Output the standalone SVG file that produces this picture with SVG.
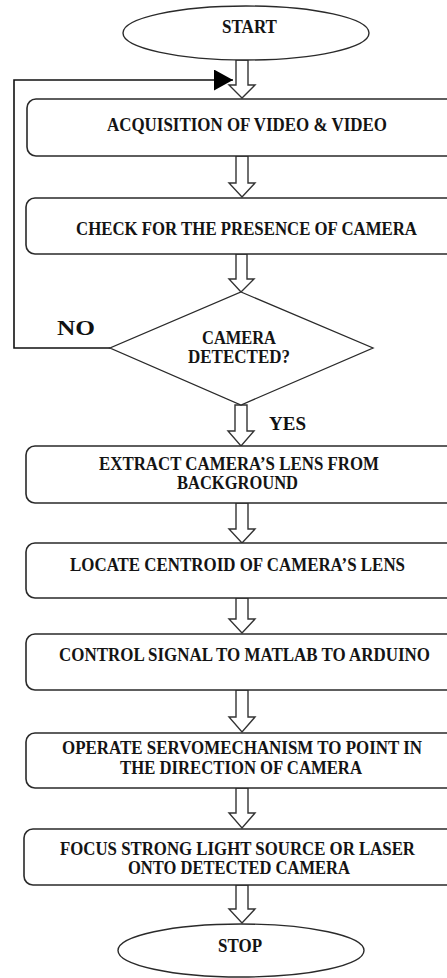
<svg xmlns="http://www.w3.org/2000/svg" width="447" height="978" viewBox="0 0 447 978">
<style>
.bg{fill:#fff}
.box{fill:#fff;stroke:#2a2a2a;stroke-width:1.6}
.term{fill:#fff;stroke:#2a2a2a;stroke-width:1.4}
.dia{fill:#fff;stroke:#2a2a2a;stroke-width:1.3}
.blk{fill:#fff;stroke:#333;stroke-width:1.4;stroke-linejoin:miter}
.fb{fill:none;stroke:#111;stroke-width:1.6}
.t{font-family:"Liberation Serif","Times New Roman",serif;font-weight:bold;font-size:18px;fill:#141414}
.lab{font-family:"Liberation Serif","Times New Roman",serif;font-weight:bold;fill:#111}
</style>
<defs>
<marker id="tri" markerUnits="userSpaceOnUse" markerWidth="20" markerHeight="22" refX="19" refY="10.5" orient="auto">
<path d="M0,0 L19,10.5 L0,21 Z" fill="#000"/>
</marker>
</defs>
<rect class="bg" x="0" y="0" width="447" height="978"/>

<g id="connectors">
<path class="blk" d="M236,60 V85 H229 L242,98 L255,85 H248 V60 Z"/>
<path class="blk" d="M236,156 V183 H229 L242,197 L255,183 H248 V156 Z"/>
<path class="blk" d="M236,254 V279 H229 L241,292 L254,279 H247 V254 Z"/>
<path class="blk" d="M235,405 V431 H228 L241,446 L254,431 H247 V405 Z"/>
<path class="blk" d="M236,503 V529 H229 L242,543 L255,529 H248 V503 Z"/>
<path class="blk" d="M236,598 V619 H229 L242,633 L255,619 H248 V598 Z"/>
<path class="blk" d="M236,690 V717 H229 L242,732 L255,717 H248 V690 Z"/>
<path class="blk" d="M236,788 V813 H229 L242,828 L255,813 H248 V788 Z"/>
<path class="blk" d="M236,885 V909 H229 L242,923 L255,909 H248 V885 Z"/>
<polyline class="fb" points="110,348 14,348 14,80 233,80" marker-end="url(#tri)"/>
<text class="lab" x="57" y="335" font-size="21" textLength="38" lengthAdjust="spacingAndGlyphs">NO</text>
<text class="lab" x="269" y="430" font-size="19.5" textLength="37" lengthAdjust="spacingAndGlyphs">YES</text>
</g>

<g id="start">
<ellipse class="term" cx="246" cy="33" rx="123" ry="27"/>
<text class="t" x="222" y="33" font-size="16" textLength="55" lengthAdjust="spacingAndGlyphs">START</text>
</g>

<g id="acquire">
<path class="box" d="M447,99 H36 A9,9 0 0 0 27,108 V147 A9,9 0 0 0 36,156 H447"/>
<text class="t" x="107" y="131" textLength="280" lengthAdjust="spacingAndGlyphs">ACQUISITION OF VIDEO &amp; VIDEO</text>
</g>

<g id="check">
<path class="box" d="M447,198 H35 A9,9 0 0 0 26,207 V245 A9,9 0 0 0 35,254 H447"/>
<text class="t" x="76" y="235" textLength="341" lengthAdjust="spacingAndGlyphs">CHECK FOR THE PRESENCE OF CAMERA</text>
</g>

<g id="detected">
<polygon class="dia" points="241,292 373,348 241,405 110,348"/>
<text class="t" x="202" y="344" textLength="74" lengthAdjust="spacingAndGlyphs">CAMERA</text>
<text class="t" x="188" y="363" textLength="102" lengthAdjust="spacingAndGlyphs">DETECTED?</text>
</g>

<g id="extract">
<path class="box" d="M447,446 H35 A9,9 0 0 0 26,455 V494 A9,9 0 0 0 35,503 H447"/>
<text class="t" x="99" y="470" textLength="280" lengthAdjust="spacingAndGlyphs">EXTRACT CAMERA’S LENS FROM</text>
<text class="t" x="177" y="489" textLength="121" lengthAdjust="spacingAndGlyphs">BACKGROUND</text>
</g>

<g id="locate">
<path class="box" d="M447,543 H35 A9,9 0 0 0 26,552 V589 A9,9 0 0 0 35,598 H447"/>
<text class="t" x="70" y="571" textLength="335" lengthAdjust="spacingAndGlyphs">LOCATE CENTROID OF CAMERA’S LENS</text>
</g>

<g id="control">
<path class="box" d="M447,634 H35 A9,9 0 0 0 26,643 V681 A9,9 0 0 0 35,690 H447"/>
<text class="t" x="244.5" y="661" font-size="16.5" text-anchor="middle" textLength="371" lengthAdjust="spacingAndGlyphs">CONTROL SIGNAL TO MATLAB TO ARDUINO</text>
</g>

<g id="operate">
<path class="box" d="M447,733 H35 A9,9 0 0 0 26,742 V779 A9,9 0 0 0 35,788 H447"/>
<text class="t" x="62" y="754" textLength="360" lengthAdjust="spacingAndGlyphs">OPERATE SERVOMECHANISM TO POINT IN</text>
<text class="t" x="120" y="774" textLength="242" lengthAdjust="spacingAndGlyphs">THE DIRECTION OF CAMERA</text>
</g>

<g id="focus">
<path class="box" d="M447,829 H33 A9,9 0 0 0 24,838 V876 A9,9 0 0 0 33,885 H447"/>
<text class="t" x="60" y="855" textLength="355" lengthAdjust="spacingAndGlyphs">FOCUS STRONG LIGHT SOURCE OR LASER</text>
<text class="t" x="128" y="874" textLength="222" lengthAdjust="spacingAndGlyphs">ONTO DETECTED CAMERA</text>
</g>

<g id="stop">
<ellipse class="term" cx="241" cy="950.5" rx="123" ry="26.5"/>
<text class="t" x="218" y="952" font-size="16" textLength="44" lengthAdjust="spacingAndGlyphs">STOP</text>
</g>
</svg>
